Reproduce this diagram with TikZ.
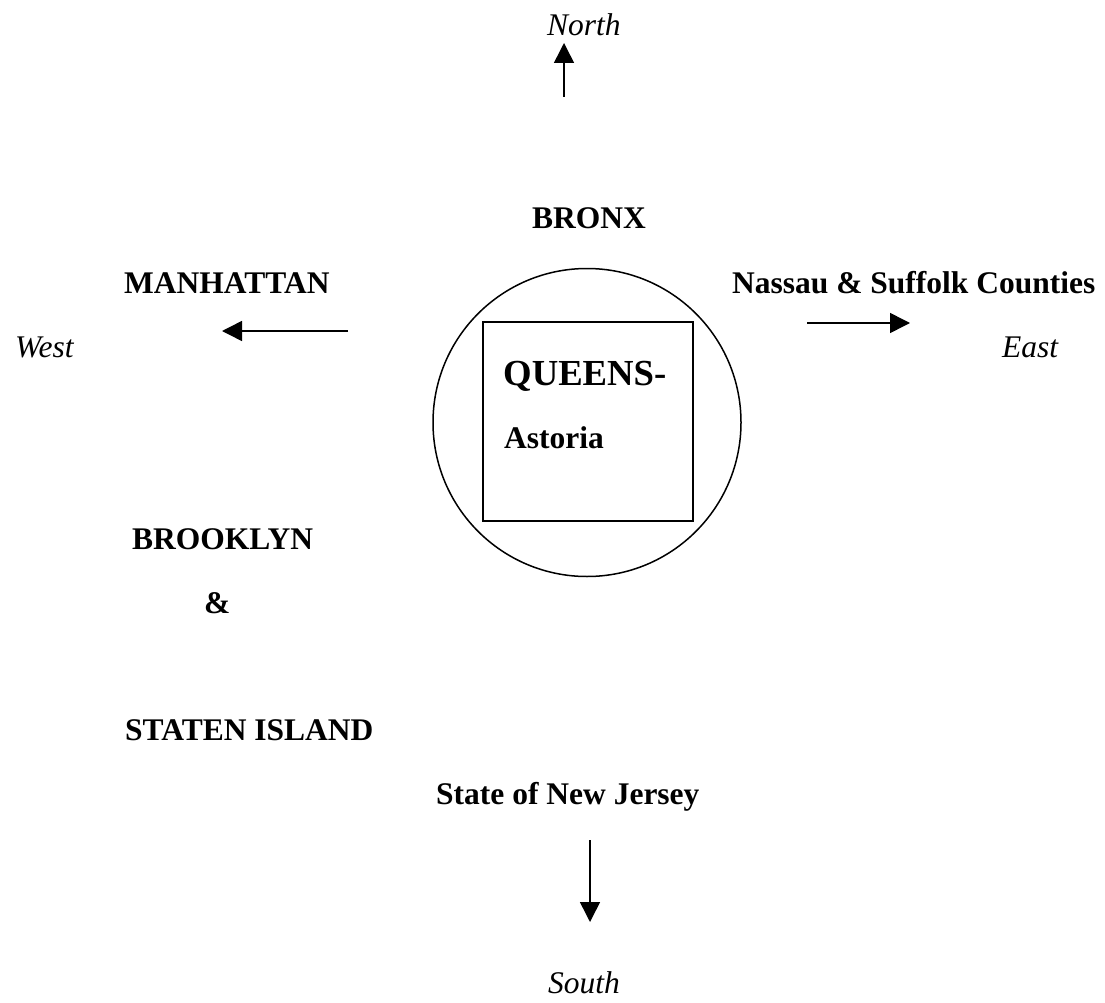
\documentclass[tikz,border=0pt]{standalone}
\usepackage{fontspec}
\setmainfont{Liberation Serif}
\usetikzlibrary{arrows.meta}
\tikzset{
  lbl/.style={anchor=base west, inner sep=0pt, font=\fontsize{31.5}{38}\selectfont\bfseries},
  dir/.style={anchor=base west, inner sep=0pt, font=\fontsize{31.5}{38}\selectfont\itshape},
  big/.style={anchor=base west, inner sep=0pt, font=\fontsize{36.7}{44}\selectfont\bfseries},
  arr/.style={line width=1.5pt, -{Triangle[length=20pt, width=20pt]}},
  shp/.style={line width=1.5pt}
}
\begin{document}
\begin{tikzpicture}[x=1pt, y=-1pt]
\useasboundingbox (0,0) rectangle (1105,1003);
% central shapes
\node[shp, draw, circle, minimum size=308pt, inner sep=0pt] (circ) at (587,422.5) {};
\node[shp, draw, rectangle, minimum width=210pt, minimum height=199pt, inner sep=0pt] (box) at (588,421.5) {};
\node[big] (queens) at (503,385) {QUEENS-};
\node[lbl] (astoria) at (504,448) {Astoria};
% labels
\node[lbl] (bronx) at (532,229) {BRONX};
\node[lbl] (manhattan) at (124,293) {MANHATTAN};
\node[lbl] (nassau) at (732,293) {Nassau \& Suffolk Counties};
\node[lbl] (brooklyn) at (132,549) {BROOKLYN};
\node[lbl] (amp) at (204,613) {\&};
\node[lbl] (staten) at (125,740) {STATEN ISLAND};
\node[lbl] (nj) at (436,804) {State of New Jersey};
\node[dir] (north) at (547,36) {North};
\node[dir] (west) at (15,357) {West};
\node[dir] (east) at (1002,357) {East};
\node[dir] (south) at (548,993) {South};
% arrows
\coordinate (nS) at (564,97);
\coordinate (nE) at (564,43);
\coordinate (wS) at (348,331);
\coordinate (wE) at (222,331);
\coordinate (eS) at (807,323);
\coordinate (eE) at (910,323);
\coordinate (sS) at (590,840);
\coordinate (sE) at (590,922);
\draw[arr] (nS) -- (nE);
\draw[arr] (wS) -- (wE);
\draw[arr] (eS) -- (eE);
\draw[arr] (sS) -- (sE);
\end{tikzpicture}
\end{document}
